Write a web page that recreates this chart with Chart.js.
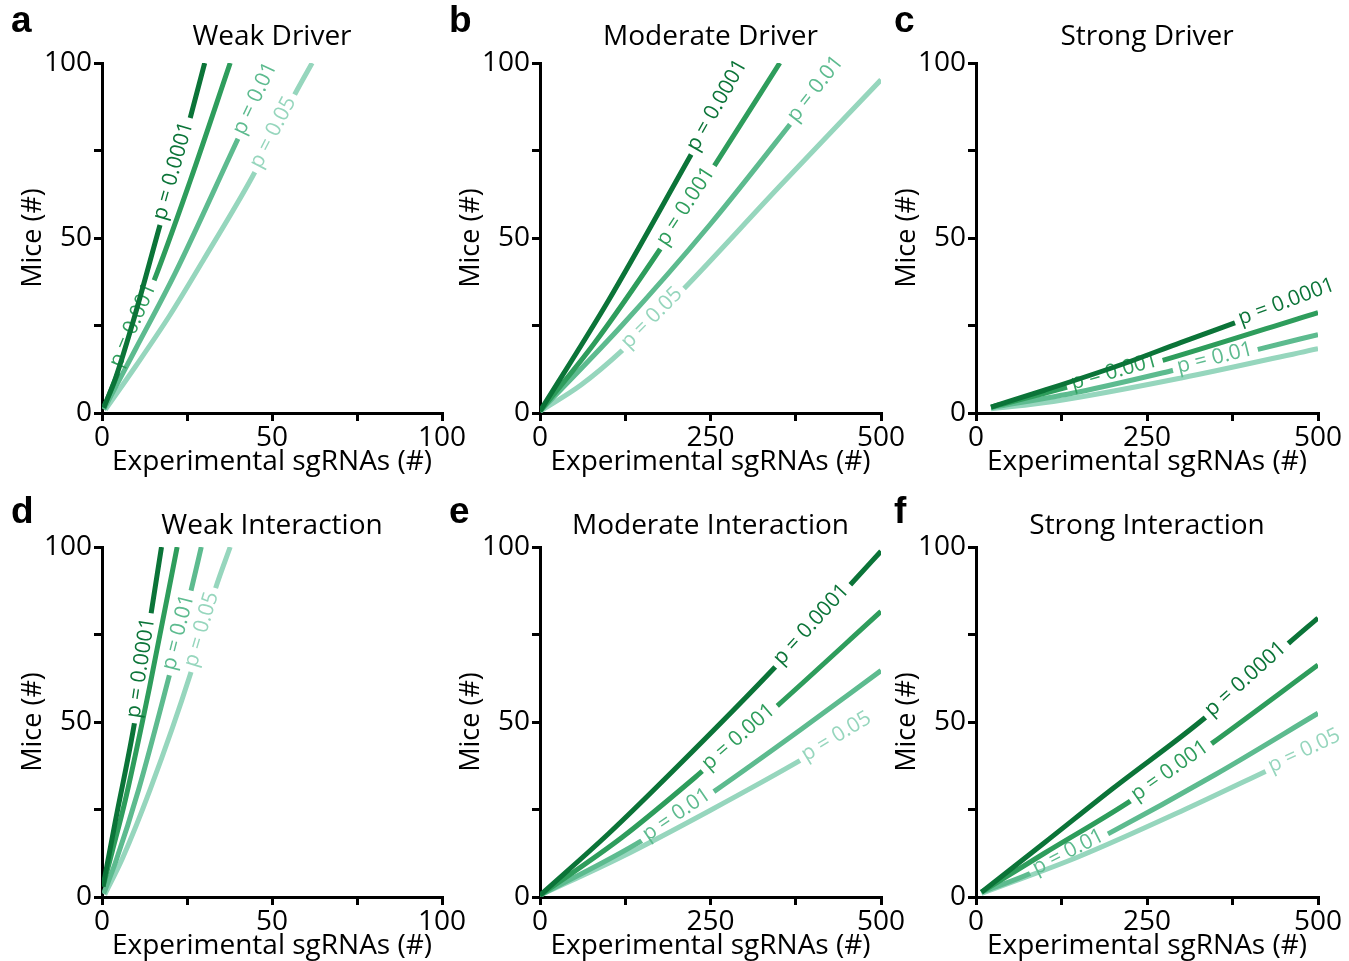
<!DOCTYPE html>
<html>
<head>
<meta charset="utf-8">
<title>Required mice vs experimental sgRNAs</title>
<script src="https://cdn.jsdelivr.net/npm/chart.js@4.4.1/dist/chart.umd.min.js"></script>
<style>
  body { margin: 0; background: #fff; width: 1349px; height: 961px; position: relative; overflow: hidden; }
  canvas { position: absolute; }
</style>
</head>
<body>
<canvas id="panelA" width="470" height="479" style="left:0;top:0"></canvas>
<canvas id="panelB" width="470" height="479" style="left:438px;top:0"></canvas>
<canvas id="panelC" width="475" height="479" style="left:874px;top:0"></canvas>
<canvas id="panelD" width="470" height="479" style="left:0;top:484px"></canvas>
<canvas id="panelE" width="470" height="479" style="left:438px;top:484px"></canvas>
<canvas id="panelF" width="475" height="479" style="left:874px;top:484px"></canvas>
<script>
// p-value thresholds, darkest line first
const pLabels = ['p = 0.0001', 'p = 0.001', 'p = 0.01', 'p = 0.05'];
const lineColors = ['#0b7438', '#2e9d5c', '#5dbb8f', '#96d6bd'];

const yTickLabels = [0, 50, 100];
const xTickLabelsSmall = [0, 50, 100];
const xTickLabelsLarge = [0, 250, 500];

// a - Weak Driver
const weakDriverX = [
  [0.5, 4, 9.2, 17, 26, 30.2],
  [0.5, 4.5, 9, 14.9, 26, 37.7],
  [0.5, 10, 21.6, 40.2, 50.6],
  [1, 10, 20, 30, 44.1, 57.5, 61.8]
];
const weakDriverY = [
  [1.5, 10, 26.3, 53.5, 84.5, 100],
  [1.5, 11, 23.5, 36.8, 66.5, 100],
  [1, 18.5, 40.1, 78.8, 100],
  [1, 13.5, 28, 44, 67.3, 92.5, 100]
];
const weakDriverLabelX = [21.5, 9.6, 45.5, 50.8];

// b - Moderate Driver
const moderateDriverX = [
  [0, 100, 225.6, 298],
  [0, 80, 176.8, 254.9, 351.6],
  [0, 120, 250, 372, 437],
  [0, 60, 120.6, 210.9, 350, 500]
];
const moderateDriverY = [
  [0.5, 32, 75.2, 100],
  [0.5, 20, 47, 70.4, 100],
  [0.5, 25, 54, 83.8, 100],
  [0.5, 8, 17.9, 35.5, 64.5, 95.2]
];
const moderateDriverLabelX = [262, 216, 406, 166];

// c - Strong Driver
const strongDriverX = [
  [22, 100, 215, 300, 386.3, 500],
  [22, 100, 269.3, 500],
  [22, 150, 288.9, 411, 500],
  [22, 113, 300, 500]
];
const strongDriverY = [
  [1.7, 6.5, 14, 20.2, 26.3, 34.5],
  [1.7, 5.6, 14.8, 28.7],
  [1.5, 6, 12.2, 18.1, 22.4],
  [1.2, 3.3, 10, 18.4]
];
const strongDriverLabelX = [455, 203, 350, null];

// d - Weak Interaction
const weakInteractionX = [
  [0.3, 4, 9.6, 14.5, 17.5],
  [0.3, 3, 6.9, 14, 22.1],
  [0.5, 4, 10.8, 19.4, 26.2, 29.2],
  [0.8, 6, 14.2, 26, 33.5, 37.7]
];
const weakInteractionY = [
  [3, 22, 50, 81.4, 100],
  [3, 13, 27.9, 60, 100],
  [1, 10, 30.8, 61.8, 87.6, 100],
  [0.7, 11, 30.8, 63.7, 88.5, 100]
];
const weakInteractionLabelX = [12, null, 23, 29.8];

// e - Moderate Interaction
const moderateInteractionX = [
  [0, 100, 200, 345.2, 455, 500],
  [0, 120, 240.2, 346.7, 500],
  [0, 149.9, 254.9, 380, 500],
  [0, 120, 250, 386.7, 486]
];
const moderateInteractionY = [
  [0.5, 18, 37, 65.8, 89.2, 98.8],
  [0.5, 17, 36.3, 54.4, 81.6],
  [0.5, 16.2, 30.1, 47.5, 64.7],
  [0.5, 11.5, 24.8, 39.6, 51.3]
];
const moderateInteractionLabelX = [400, 293, 202, 436];

// f - Strong Interaction
const strongInteractionX = [
  [8, 100, 200, 336.6, 457, 500],
  [8, 100, 227.8, 344.9, 500],
  [8, 79, 193.7, 350, 500],
  [8, 150, 300, 427.8, 500]
];
const strongInteractionY = [
  [1.4, 15.5, 31, 51.5, 72.5, 79.7],
  [1.4, 12.5, 27.7, 43.9, 66.3],
  [1.4, 6.7, 18.1, 35, 52.5],
  [1, 11.5, 24.5, 36.3, 43]
];
const strongInteractionLabelX = [396, 285, 136, 481];

const FONT = '"Open Sans", "Liberation Sans", sans-serif';
const LABEL_FONT = '21px ' + FONT;

// where the inline p-value label sits on a line (pixel centre + angle)
function labelGeometry(chart, i) {
  const ds = chart.data.datasets[i];
  if (ds.labelX == null) return null;
  const pts = chart.getDatasetMeta(i).data;
  const px = chart.scales.x.getPixelForValue(ds.labelX);
  let k = 0;
  while (k < pts.length - 2 && pts[k + 1].x < px) k++;
  const p0 = pts[k], p1 = pts[k + 1];
  const t = (px - p0.x) / (p1.x - p0.x);
  const ctx = chart.ctx;
  ctx.save();
  ctx.font = LABEL_FONT;
  const w = ctx.measureText(ds.label).width;
  ctx.restore();
  return { x: px, y: p0.y + t * (p1.y - p0.y), a: Math.atan2(p1.y - p0.y, p1.x - p0.x), w };
}

// cut a gap in each line where its label goes, then write the label there
const lineLabels = {
  id: 'lineLabels',
  beforeDatasetDraw(chart, args) {
    const g = labelGeometry(chart, args.index);
    if (!g) return;
    const ctx = chart.ctx;
    const hw = g.w / 2 + 5, hh = 10;
    const c = Math.cos(g.a), s = Math.sin(g.a);
    const pts = [[-hw, -hh], [hw, -hh], [hw, hh], [-hw, hh]]
      .map(([u, v]) => [g.x + u * c - v * s, g.y + u * s + v * c]);
    ctx.save();
    ctx.beginPath();
    ctx.rect(0, 0, chart.width, chart.height);
    ctx.moveTo(pts[0][0], pts[0][1]);
    for (let j = 1; j < 4; j++) ctx.lineTo(pts[j][0], pts[j][1]);
    ctx.closePath();
    ctx.clip('evenodd');
  },
  afterDatasetDraw(chart, args) {
    const g = labelGeometry(chart, args.index);
    if (!g) return;
    const ctx = chart.ctx;
    ctx.restore();
    ctx.save();
    ctx.translate(g.x, g.y);
    ctx.rotate(g.a);
    ctx.font = LABEL_FONT;
    ctx.fillStyle = chart.data.datasets[args.index].borderColor;
    ctx.textAlign = 'center';
    ctx.textBaseline = 'middle';
    ctx.fillText(chart.data.datasets[args.index].label, 0, -2);
    ctx.restore();
  }
};

const panelText = {
  id: 'panelText',
  afterDraw(chart, args, opts) {
    const ctx = chart.ctx;
    const area = chart.chartArea;
    ctx.save();
    ctx.fillStyle = '#000';
    ctx.font = 'bold 37px "Liberation Sans", Arial, sans-serif';
    ctx.textBaseline = 'alphabetic';
    ctx.fillText(opts.letter, opts.letterX, opts.letterY);
    ctx.font = '28px ' + FONT;
    ctx.textAlign = 'center';
    ctx.textBaseline = 'middle';
    ctx.fillText(opts.title, (area.left + area.right) / 2, opts.titleY);
    ctx.restore();
  }
};

function axis(max, tickLabels, title, isX, xAxisH) {
  return {
    type: 'linear',
    min: 0,
    max: max,
    afterFit: s => { if (isX) s.height = xAxisH; else s.width = 100; },
    border: { display: true, color: '#000', width: 3 },
    grid: { drawOnChartArea: false, drawTicks: true, tickLength: 8, tickWidth: 3, tickColor: '#000', color: '#000', lineWidth: 3 },
    ticks: {
      stepSize: max / 4,
      autoSkip: false,
      maxRotation: 0,
      padding: isX ? 0 : 2,
      color: '#000',
      font: { family: FONT, size: 28 },
      callback: v => tickLabels.includes(v) ? String(v) : ''
    },
    title: {
      display: true,
      text: title,
      color: '#000',
      font: { family: FONT, size: isX ? 28 : 27 },
      padding: isX ? { top: 0, bottom: 0 } : { top: 15, bottom: 0 }
    }
  };
}

function makePanel(id, p) {
  const datasets = p.xs.map((xs, i) => ({
    label: pLabels[i],
    data: xs.map((x, j) => ({ x: x, y: p.ys[i][j] })),
    labelX: p.labelX[i],
    borderColor: lineColors[i],
    borderWidth: 5,
    borderCapStyle: 'butt',
    pointRadius: 0,
    fill: false,
    cubicInterpolationMode: 'monotone'
  }));
  new Chart(document.getElementById(id), {
    type: 'line',
    data: { datasets },
    options: {
      responsive: false,
      animation: false,
      events: [],
      layout: { padding: { left: 2, top: 63, right: p.padRight, bottom: 0 } },
      plugins: {
        legend: { display: false },
        title: { display: false },
        tooltip: { enabled: false },
        panelText: { letter: p.letter, title: p.title, letterX: p.letterX, letterY: p.letterY, titleY: p.titleY }
      },
      scales: {
        x: axis(p.xMax, p.xMax === 100 ? xTickLabelsSmall : xTickLabelsLarge, 'Experimental sgRNAs (#)', true, 66),
        y: axis(100, yTickLabels, 'Mice (#)', false)
      }
    },
    plugins: [lineLabels, panelText]
  });
}

makePanel('panelA', { letter: 'a', title: 'Weak Driver', xMax: 100, xs: weakDriverX, ys: weakDriverY, labelX: weakDriverLabelX,
  padRight: 28, letterX: 11, letterY: 32, titleY: 37 });
makePanel('panelB', { letter: 'b', title: 'Moderate Driver', xMax: 500, xs: moderateDriverX, ys: moderateDriverY, labelX: moderateDriverLabelX,
  padRight: 27, letterX: 11, letterY: 32, titleY: 37 });
makePanel('panelC', { letter: 'c', title: 'Strong Driver', xMax: 500, xs: strongDriverX, ys: strongDriverY, labelX: strongDriverLabelX,
  padRight: 31, letterX: 20, letterY: 32, titleY: 37 });
makePanel('panelD', { letter: 'd', title: 'Weak Interaction', xMax: 100, xs: weakInteractionX, ys: weakInteractionY, labelX: weakInteractionLabelX,
  padRight: 28, letterX: 11, letterY: 39, titleY: 42 });
makePanel('panelE', { letter: 'e', title: 'Moderate Interaction', xMax: 500, xs: moderateInteractionX, ys: moderateInteractionY, labelX: moderateInteractionLabelX,
  padRight: 27, letterX: 11, letterY: 39, titleY: 42 });
makePanel('panelF', { letter: 'f', title: 'Strong Interaction', xMax: 500, xs: strongInteractionX, ys: strongInteractionY, labelX: strongInteractionLabelX,
  padRight: 31, letterX: 20, letterY: 39, titleY: 42 });
</script>
</body>
</html>
